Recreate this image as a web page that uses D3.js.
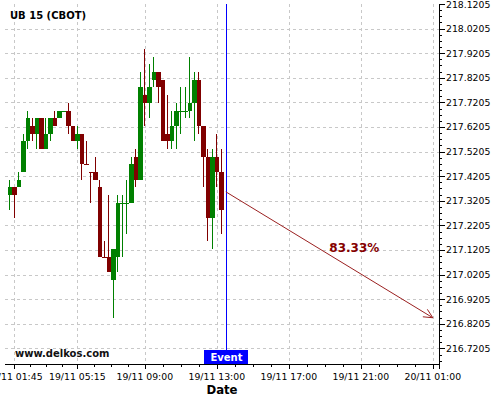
<!DOCTYPE html>
<html>
<head>
<meta charset="utf-8">
<title>UB 15 (CBOT)</title>
<script src="https://d3js.org/d3.v7.min.js"></script>
<style>
  body { margin: 0; background: #fff; }
  svg { display: block; font-family: "DejaVu Sans", sans-serif; }
</style>
</head>
<body>
<div id="chart"></div>
<script>
// 15 minute bars, 19/11
var times = ["19/11 01:30","19/11 01:45","19/11 02:00","19/11 02:15","19/11 02:30","19/11 02:45",
  "19/11 03:00","19/11 03:15","19/11 03:30","19/11 03:45","19/11 04:00","19/11 04:15",
  "19/11 04:30","19/11 04:45","19/11 05:00","19/11 05:15","19/11 05:30","19/11 05:45",
  "19/11 06:00","19/11 06:15","19/11 06:30","19/11 06:45","19/11 07:00","19/11 07:15",
  "19/11 07:30","19/11 07:45","19/11 08:00","19/11 08:15","19/11 08:30","19/11 08:45",
  "19/11 09:00","19/11 09:15","19/11 09:30","19/11 09:45","19/11 10:00","19/11 10:15",
  "19/11 10:30","19/11 10:45","19/11 11:00","19/11 11:15","19/11 11:30","19/11 11:45",
  "19/11 12:00","19/11 12:15","19/11 12:30","19/11 12:45","19/11 13:00","19/11 13:15"];

var opens = [217.34375,217.375,217.375,217.4375,217.5625,217.625,217.59375,217.65625,217.53125,217.59375,
  217.65625,217.65625,217.6875,217.6875,217.625,217.5625,217.59375,217.46875,217.4375,217.4375,
  217.375,217.09375,217.09375,217,217.09375,217.3125,217.3125,217.3125,217.5,217.40625,
  217.75,217.71875,217.8125,217.84375,217.8125,217.59375,217.5625,217.625,217.6875,217.6875,
  217.6875,217.71875,217.8125,217.625,217.5,217.25,217.5,217.4375];
var highs = [217.40625,217.375,217.4375,217.59375,217.6875,217.65625,217.65625,217.65625,217.65625,217.65625,
  217.6875,217.6875,217.6875,217.71875,217.625,217.625,217.59375,217.5625,217.4375,217.5,
  217.40625,217.15625,217.34375,217.125,217.34375,217.34375,217.40625,217.5,217.53125,217.84375,
  217.9375,217.875,217.90625,217.84375,217.8125,217.75,217.6875,217.71875,217.78125,217.78125,
  217.90625,217.84375,217.84375,217.625,217.53125,217.53125,217.59375,217.53125];
var lows = [217.28125,217.25,217.375,217.4375,217.53125,217.5625,217.53125,217.53125,217.53125,217.5625,
  217.625,217.65625,217.6875,217.59375,217.5625,217.53125,217.40625,217.46875,217.3125,217.40625,
  217.09375,217.09375,217.03125,216.84375,217.03125,217.09375,217.1875,217.3125,217.375,217.40625,
  217.625,217.65625,217.78125,217.71875,217.5625,217.53125,217.53125,217.53125,217.59375,217.65625,
  217.65625,217.5625,217.59375,217.375,217.15625,217.125,217.375,217.1875];
var closes = [217.375,217.34375,217.40625,217.5625,217.65625,217.59375,217.65625,217.53125,217.59375,217.65625,
  217.625,217.6875,217.6875,217.625,217.5625,217.59375,217.46875,217.46875,217.4375,217.40625,
  217.09375,217.09375,217.03125,217.125,217.3125,217.3125,217.3125,217.46875,217.40625,217.78125,
  217.71875,217.78125,217.84375,217.78125,217.5625,217.5625,217.625,217.6875,217.6875,217.6875,
  217.71875,217.8125,217.625,217.5,217.25,217.5,217.4375,217.28125];

var xTickLabels = ["19/11 01:45","19/11 05:15","19/11 09:00","19/11 13:00","19/11 17:00","19/11 21:00","20/11 01:00"];
var yTickValues = [216.7205,216.8205,216.9205,217.0205,217.1205,217.2205,217.3205,217.4205,
  217.5205,217.6205,217.7205,217.8205,217.9205,218.0205,218.1205];

var eventTime = "19/11 13:30";
var forecastFrom = ["19/11 13:30", 217.357];
var forecastTo = ["20/11 01:00", 216.845];
var forecastLabel = "83.33%";

var W = 500, H = 400;
var pL = 5, pR = 439, pT = 4, pB = 364;
var parse = d3.utcParse("%d/%m %H:%M");

var data = times.map(function (t, i) {
  return { t: parse(t), o: opens[i], h: highs[i], l: lows[i], c: closes[i] };
});
// flat bars keep the colour of the bar before
var up = true;
data.forEach(function (d) {
  if (d.c > d.o) up = true;
  else if (d.c < d.o) up = false;
  d.up = up;
});

var x = d3.scaleUtc()
  .domain([parse(xTickLabels[0]), parse(xTickLabels[xTickLabels.length - 1])])
  .range([14.3, 432.8]);
var y = d3.scaleLinear()
  .domain([216.657, 218.1205])
  .range([pB, pT]);

var svg = d3.select("#chart").append("svg")
  .attr("width", W).attr("height", H);

svg.append("defs").append("clipPath").attr("id", "plot")
  .append("rect").attr("x", pL).attr("y", pT)
  .attr("width", pR - pL).attr("height", pB - pT);

// grid
var grid = svg.append("g")
  .attr("stroke", "#c8c8c8").attr("stroke-dasharray", "3,3")
  .attr("shape-rendering", "crispEdges");
grid.selectAll(".gy").data(yTickValues.filter(function (v) { return y(v) > pT + 2; }))
  .enter().append("line")
  .attr("x1", pL).attr("x2", pR)
  .attr("y1", function (v) { return Math.round(y(v)) + 0.5; })
  .attr("y2", function (v) { return Math.round(y(v)) + 0.5; });
grid.selectAll(".gx").data(xTickLabels)
  .enter().append("line")
  .attr("y1", pT).attr("y2", pB)
  .attr("x1", function (s) { return Math.round(x(parse(s))) + 0.5; })
  .attr("x2", function (s) { return Math.round(x(parse(s))) + 0.5; });

// candles
var bw = 4.5;
var plot = svg.append("g").attr("clip-path", "url(#plot)");
var candle = plot.selectAll(".candle").data(data).enter().append("g")
  .attr("class", "candle")
  .attr("shape-rendering", "crispEdges");
candle.append("line")
  .attr("x1", function (d) { return Math.floor(x(d.t)) + 0.5; })
  .attr("x2", function (d) { return Math.floor(x(d.t)) + 0.5; })
  .attr("y1", function (d) { return y(d.h); })
  .attr("y2", function (d) { return y(d.l); })
  .attr("stroke", function (d) { return d.up ? "#008000" : "#800000"; });
candle.append("rect")
  .attr("x", function (d) { return x(d.t) - bw / 2; })
  .attr("width", bw)
  .attr("y", function (d) { return y(Math.max(d.o, d.c)); })
  .attr("height", function (d) { return Math.max(1, Math.abs(y(d.o) - y(d.c))); })
  .attr("fill", function (d) { return d.up ? "#008000" : "#800000"; });

// event line
var ex = Math.round(x(parse(eventTime))) + 0.5;
svg.append("line")
  .attr("x1", ex).attr("x2", ex).attr("y1", pT).attr("y2", pB)
  .attr("stroke", "#0000ff").attr("shape-rendering", "crispEdges");

// forecast arrow
var ax0 = x(parse(forecastFrom[0])), ay0 = y(forecastFrom[1]);
var ax1 = x(parse(forecastTo[0])), ay1 = y(forecastTo[1]);
var ang = Math.atan2(ay1 - ay0, ax1 - ax0);
var arrow = svg.append("g").attr("stroke", "#9b2020").attr("fill", "none");
arrow.append("line").attr("x1", ax0).attr("y1", ay0).attr("x2", ax1).attr("y2", ay1);
arrow.append("path").attr("d",
  "M" + (ax1 - 10 * Math.cos(ang - 0.45)) + "," + (ay1 - 10 * Math.sin(ang - 0.45)) +
  "L" + ax1 + "," + ay1 +
  "L" + (ax1 - 10 * Math.cos(ang + 0.45)) + "," + (ay1 - 10 * Math.sin(ang + 0.45)));
svg.append("text")
  .attr("x", (ax0 + ax1) / 2).attr("y", (ay0 + ay1) / 2 - 3)
  .attr("font-size", "12px").attr("font-weight", "bold").attr("fill", "#850000")
  .text(forecastLabel);

// axes
var axis = svg.append("g").attr("stroke", "#000").attr("shape-rendering", "crispEdges");
axis.append("line").attr("x1", pL).attr("x2", pR + 0.5).attr("y1", pB + 0.5).attr("y2", pB + 0.5);
axis.append("line").attr("x1", pR + 0.5).attr("x2", pR + 0.5).attr("y1", pT).attr("y2", pB + 5);

var yMinor = d3.range(0, 60).map(function (k) { return 216.6705 + k * 0.025; })
  .filter(function (v) { return v <= 218.1206 && y(v) <= pB; });
axis.selectAll(".ym").data(yMinor).enter().append("line")
  .attr("x1", pR).attr("x2", function (v, i) { return pR + ((i + 2) % 4 === 0 ? 6 : 3); })
  .attr("y1", function (v) { return Math.round(y(v)) + 0.5; })
  .attr("y2", function (v) { return Math.round(y(v)) + 0.5; });

var xMinor = [];
for (var i = 0; i < xTickLabels.length - 1; i++) {
  var t0 = +parse(xTickLabels[i]), t1 = +parse(xTickLabels[i + 1]);
  for (var k = 1; k < 4; k++) xMinor.push(new Date(t0 + (t1 - t0) * k / 4));
}
axis.selectAll(".xm").data(xMinor).enter().append("line")
  .attr("y1", pB).attr("y2", pB + 3)
  .attr("x1", function (t) { return Math.round(x(t)) + 0.5; })
  .attr("x2", function (t) { return Math.round(x(t)) + 0.5; });
axis.selectAll(".xM").data(xTickLabels).enter().append("line")
  .attr("y1", pB).attr("y2", pB + 5)
  .attr("x1", function (s) { return Math.round(x(parse(s))) + 0.5; })
  .attr("x2", function (s) { return Math.round(x(parse(s))) + 0.5; });

svg.selectAll(".yl").data(yTickValues).enter().append("text")
  .attr("x", pR + 7).attr("y", function (v) { return Math.max(y(v), 5); })
  .attr("dy", "0.36em").attr("font-size", "9.3px").attr("fill", "#000")
  .text(function (v) { return d3.format(".4f")(v); });
svg.selectAll(".xl").data(xTickLabels).enter().append("text")
  .attr("x", function (s) { return x(parse(s)); }).attr("y", 380)
  .attr("text-anchor", "middle").attr("font-size", "9.3px").attr("fill", "#000")
  .text(function (s) { return s; });

svg.append("text").attr("x", (pL + pR) / 2).attr("y", 394)
  .attr("text-anchor", "middle").attr("font-size", "11.7px").attr("font-weight", "bold")
  .text("Date");

// labels
svg.append("text").attr("x", 10).attr("y", 19)
  .attr("font-size", "10px").attr("font-weight", "bold").text("UB 15 (CBOT)");
svg.append("text").attr("x", 15).attr("y", 357)
  .attr("font-size", "10px").attr("font-weight", "bold").attr("fill", "#111").text("www.delkos.com");

svg.append("rect").attr("x", ex - 22.5).attr("y", 350).attr("width", 44).attr("height", 14)
  .attr("fill", "#0000ff");
svg.append("text").attr("x", ex).attr("y", 361)
  .attr("text-anchor", "middle").attr("font-size", "10px").attr("font-weight", "bold")
  .attr("fill", "#fff").text("Event");
</script>
</body>
</html>
